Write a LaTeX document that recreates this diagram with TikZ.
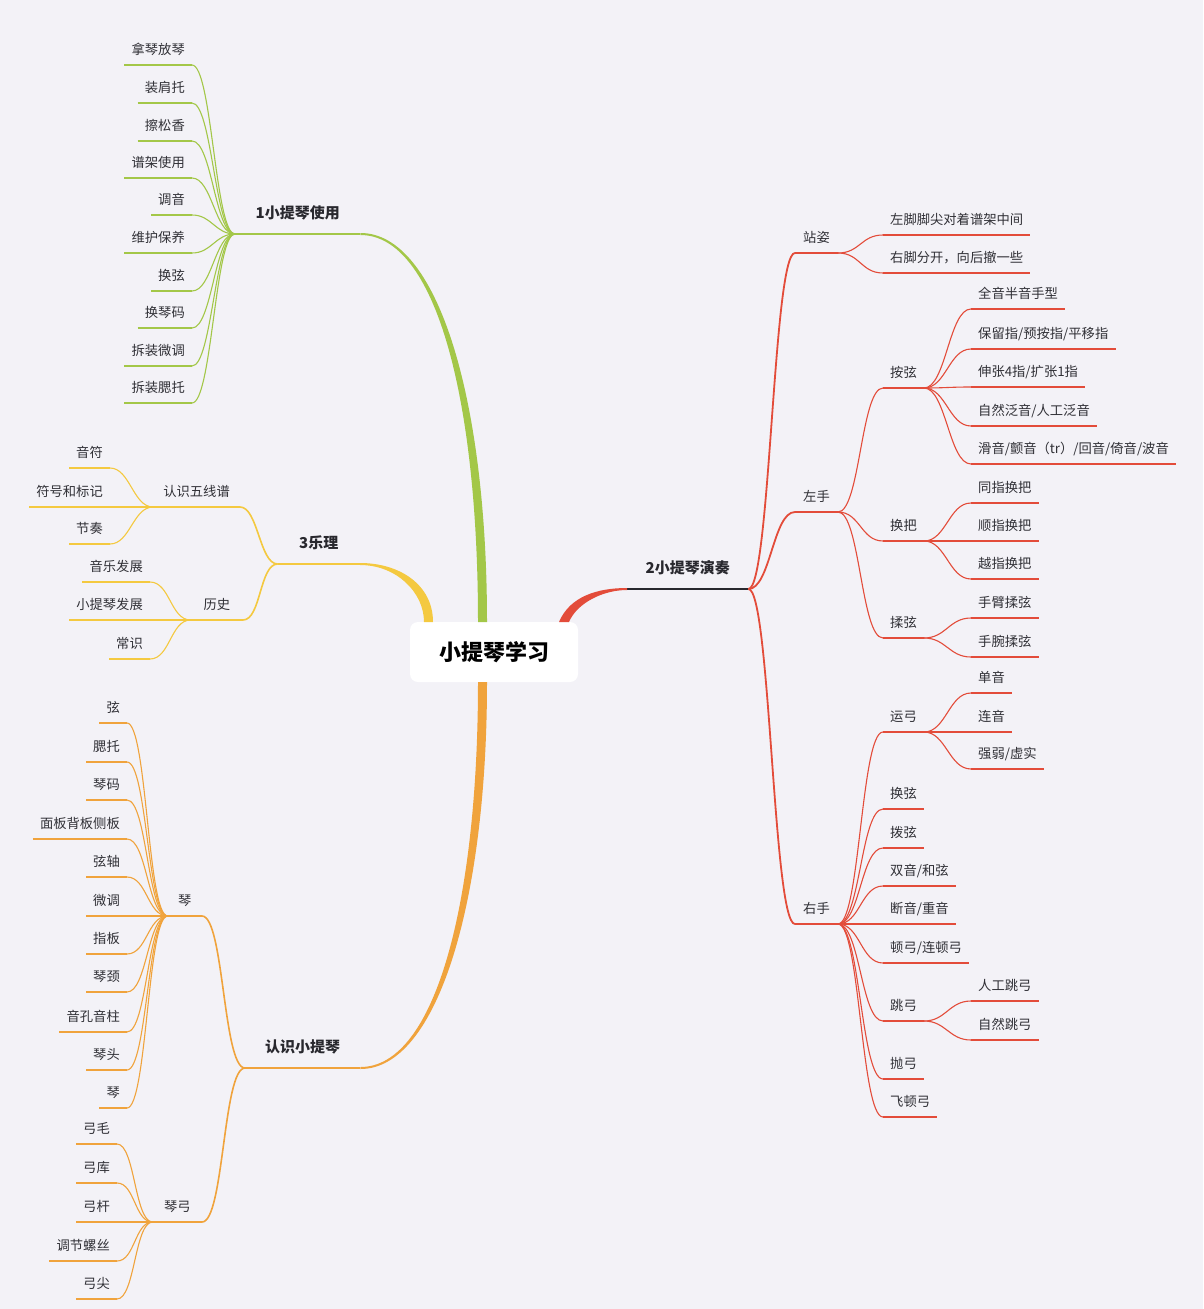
\documentclass[tikz,border=0pt]{standalone}
\usepackage{fontspec}
\usetikzlibrary{calc}
\newfontfamily\cjk{Noto Sans CJK SC}
\definecolor{bg}{RGB}{243,242,247}
\definecolor{mgreen}{RGB}{163,199,72}
\definecolor{myellow}{RGB}{244,201,64}
\definecolor{morange}{RGB}{240,163,60}
\definecolor{mred}{RGB}{227,76,58}
\definecolor{mtext}{RGB}{48,48,54}
\definecolor{mdark}{RGB}{40,40,46}
\tikzset{
  ul/.style 2 args={append after command={(\tikzlastnode.south west) edge[draw=#1, line width=#2] (\tikzlastnode.south east)}},
  txt/.style={font=\cjk\fontsize{13.3}{16}\selectfont, text=mtext, inner xsep=7pt, inner ysep=0pt, text height=11pt, text depth=10.5pt},
  leaf/.style={txt, ul={#1}{1.1pt}},
  sub/.style={txt, inner xsep=10pt, ul={#1}{1.6pt}},
  main/.style 2 args={txt, font=\cjk\bfseries\fontsize{15}{18}\selectfont, text=mdark, text height=13pt, text depth=15pt, ul={#1}{#2}},
  root/.style={fill=white, rounded corners=8pt, minimum width=168pt, minimum height=60pt, font=\cjk\bfseries\fontsize{22}{26}\selectfont, text=black},
  link/.style={draw=#1, line width=1.1pt},
  lt/.style={to path={.. controls +(-#1,0) and +(#1,0) .. (\tikztotarget)}},
  rt/.style={to path={.. controls +(#1,0) and +(-#1,0) .. (\tikztotarget)}}
}
\begin{document}
\begin{tikzpicture}[x=1pt, y=-1pt]
\fill[bg] (0,0) rectangle (1203,1309);
\useasboundingbox (0,0) rectangle (1203,1309);

\node[root] (root) at (494,652) {小提琴学习};

% 1 小提琴使用
\node[main={mgreen}{2pt}, anchor=south west, minimum width=125pt] (b1) at (235,234) {1小提琴使用};
\node[leaf=mgreen, anchor=south east] (g1) at (192,65) {拿琴放琴};
\node[leaf=mgreen, anchor=south east] (g2) at (192,103) {装肩托};
\node[leaf=mgreen, anchor=south east] (g3) at (192,141) {擦松香};
\node[leaf=mgreen, anchor=south east] (g4) at (192,178) {谱架使用};
\node[leaf=mgreen, anchor=south east] (g5) at (192,215) {调音};
\node[leaf=mgreen, anchor=south east] (g6) at (192,253) {维护保养};
\node[leaf=mgreen, anchor=south east] (g7) at (192,291) {换弦};
\node[leaf=mgreen, anchor=south east] (g8) at (192,328) {换琴码};
\node[leaf=mgreen, anchor=south east] (g9) at (192,366) {拆装微调};
\node[leaf=mgreen, anchor=south east] (g10) at (192,403) {拆装腮托};
\path[link=mgreen] (b1.south west) edge[lt=20] (g1.south east) edge[lt=20] (g2.south east)
  edge[lt=20] (g3.south east) edge[lt=20] (g4.south east) edge[lt=20] (g5.south east)
  edge[lt=20] (g6.south east) edge[lt=20] (g7.south east) edge[lt=20] (g8.south east)
  edge[lt=20] (g9.south east) edge[lt=20] (g10.south east);

% 3 乐理
\node[main={myellow}{2pt}, anchor=south east, minimum width=82pt] (b3) at (360,564) {3乐理};
\node[sub=myellow, anchor=south east] (y1) at (240,507) {认识五线谱};
\node[sub=myellow, anchor=south east, minimum width=52pt] (y2) at (243,620) {历史};
\node[leaf=myellow, anchor=south east] (y11) at (110,468) {音符};
\node[leaf=myellow, anchor=south east] (y12) at (110,507) {符号和标记};
\node[leaf=myellow, anchor=south east] (y13) at (110,544) {节奏};
\node[leaf=myellow, anchor=south east] (y21) at (150,582) {音乐发展};
\node[leaf=myellow, anchor=south east] (y22) at (150,620) {小提琴发展};
\node[leaf=myellow, anchor=south east] (y23) at (150,659) {常识};
\path[link=myellow, line width=1.6pt] (b3.south west) edge[lt=18] (y1.south east) edge[lt=18] (y2.south east);
\path[link=myellow] (y1.south west) edge[lt=20] (y11.south east) edge[lt=20] (y12.south east) edge[lt=20] (y13.south east);
\path[link=myellow] (y2.south west) edge[lt=20] (y21.south east) edge[lt=20] (y22.south east) edge[lt=20] (y23.south east);

% 认识小提琴
\node[main={morange}{2pt}, anchor=south west, minimum width=115pt] (b4) at (245,1068) {认识小提琴};
\node[sub=morange, anchor=south east, minimum width=34pt] (o1) at (202,916) {琴};
\node[sub=morange, anchor=south east, minimum width=49pt] (o2) at (202,1222) {琴弓};
\node[leaf=morange, anchor=south east] (o11) at (127,723) {弦};
\node[leaf=morange, anchor=south east] (o12) at (127,762) {腮托};
\node[leaf=morange, anchor=south east] (o13) at (127,800) {琴码};
\node[leaf=morange, anchor=south east] (o14) at (127,839) {面板背板侧板};
\node[leaf=morange, anchor=south east] (o15) at (127,877) {弦轴};
\node[leaf=morange, anchor=south east] (o16) at (127,916) {微调};
\node[leaf=morange, anchor=south east] (o17) at (127,954) {指板};
\node[leaf=morange, anchor=south east] (o18) at (127,992) {琴颈};
\node[leaf=morange, anchor=south east] (o19) at (127,1032) {音孔音柱};
\node[leaf=morange, anchor=south east] (o110) at (127,1070) {琴头};
\node[leaf=morange, anchor=south east] (o111) at (127,1108) {琴};
\node[leaf=morange, anchor=south east] (o21) at (117,1144) {弓毛};
\node[leaf=morange, anchor=south east] (o22) at (117,1183) {弓库};
\node[leaf=morange, anchor=south east] (o23) at (117,1222) {弓杆};
\node[leaf=morange, anchor=south east] (o24) at (117,1261) {调节螺丝};
\node[leaf=morange, anchor=south east] (o25) at (117,1299) {弓尖};
\path[link=morange, line width=1.6pt] (b4.south west) edge[lt=22] (o1.south east) edge[lt=22] (o2.south east);
\path[link=morange] (o1.south west) edge[lt=20] (o11.south east) edge[lt=20] (o12.south east)
  edge[lt=20] (o13.south east) edge[lt=20] (o14.south east) edge[lt=20] (o15.south east)
  edge[lt=20] (o16.south east) edge[lt=20] (o17.south east) edge[lt=20] (o18.south east)
  edge[lt=20] (o19.south east) edge[lt=20] (o110.south east) edge[lt=20] (o111.south east);
\path[link=morange] (o2.south west) edge[lt=18] (o21.south east) edge[lt=18] (o22.south east)
  edge[lt=18] (o23.south east) edge[lt=18] (o24.south east) edge[lt=18] (o25.south east);

% 2 小提琴演奏
\node[main={mdark}{2pt}, anchor=south west, minimum width=121pt] (b2) at (627,589) {2小提琴演奏};
\node[sub=mred, inner xsep=8pt, anchor=south west] (r1) at (795,253) {站姿};
\node[sub=mred, inner xsep=8pt, anchor=south west] (r2) at (795,512) {左手};
\node[sub=mred, inner xsep=8pt, anchor=south west] (r3) at (795,924) {右手};
\node[leaf=mred, anchor=south west] (r11) at (883,235) {左脚脚尖对着谱架中间};
\node[leaf=mred, anchor=south west] (r12) at (883,273) {右脚分开，向后撤一些};
\node[leaf=mred, anchor=south west] (r21) at (883,388) {按弦};
\node[leaf=mred, anchor=south west] (r22) at (883,541) {换把};
\node[leaf=mred, anchor=south west] (r23) at (883,638) {揉弦};
\node[leaf=mred, anchor=south west] (r211) at (971,309) {全音半音手型};
\node[leaf=mred, anchor=south west] (r212) at (971,349) {保留指/预按指/平移指};
\node[leaf=mred, anchor=south west] (r213) at (971,387) {伸张4指/扩张1指};
\node[leaf=mred, anchor=south west] (r214) at (971,426) {自然泛音/人工泛音};
\node[leaf=mred, anchor=south west] (r215) at (971,464) {滑音/颤音（tr）/回音/倚音/波音};
\node[leaf=mred, anchor=south west] (r221) at (971,503) {同指换把};
\node[leaf=mred, anchor=south west] (r222) at (971,541) {顺指换把};
\node[leaf=mred, anchor=south west] (r223) at (971,579) {越指换把};
\node[leaf=mred, anchor=south west] (r231) at (971,618) {手臂揉弦};
\node[leaf=mred, anchor=south west] (r232) at (971,657) {手腕揉弦};
\node[leaf=mred, anchor=south west] (r31) at (883,732) {运弓};
\node[leaf=mred, anchor=south west] (r32) at (883,809) {换弦};
\node[leaf=mred, anchor=south west] (r33) at (883,848) {拨弦};
\node[leaf=mred, anchor=south west] (r34) at (883,886) {双音/和弦};
\node[leaf=mred, anchor=south west] (r35) at (883,924) {断音/重音};
\node[leaf=mred, anchor=south west] (r36) at (883,963) {顿弓/连顿弓};
\node[leaf=mred, anchor=south west] (r37) at (883,1021) {跳弓};
\node[leaf=mred, anchor=south west] (r38) at (883,1079) {抛弓};
\node[leaf=mred, anchor=south west] (r39) at (883,1117) {飞顿弓};
\node[leaf=mred, anchor=south west] (r311) at (971,693) {单音};
\node[leaf=mred, anchor=south west] (r312) at (971,732) {连音};
\node[leaf=mred, anchor=south west] (r313) at (971,769) {强弱/虚实};
\node[leaf=mred, anchor=south west] (r371) at (971,1001) {人工跳弓};
\node[leaf=mred, anchor=south west] (r372) at (971,1040) {自然跳弓};
\path[link=mred, line width=1.8pt] (b2.south east) edge[rt=22] (r1.south west) edge[rt=22] (r2.south west) edge[rt=22] (r3.south west);
\path[link=mred] (r1.south east) edge[rt=22] (r11.south west) edge[rt=22] (r12.south west);
\path[link=mred] (r2.south east) edge[rt=22] (r21.south west) edge[rt=22] (r22.south west) edge[rt=22] (r23.south west);
\path[link=mred] (r21.south east) edge[rt=22] (r211.south west) edge[rt=22] (r212.south west)
  edge[rt=22] (r213.south west) edge[rt=22] (r214.south west) edge[rt=22] (r215.south west);
\path[link=mred] (r22.south east) edge[rt=22] (r221.south west) edge[rt=22] (r222.south west) edge[rt=22] (r223.south west);
\path[link=mred] (r23.south east) edge[rt=22] (r231.south west) edge[rt=22] (r232.south west);
\path[link=mred] (r3.south east) edge[rt=22] (r31.south west) edge[rt=22] (r32.south west)
  edge[rt=22] (r33.south west) edge[rt=22] (r34.south west) edge[rt=22] (r35.south west)
  edge[rt=22] (r36.south west) edge[rt=22] (r37.south west) edge[rt=22] (r38.south west)
  edge[rt=22] (r39.south west);
\path[link=mred] (r31.south east) edge[rt=22] (r311.south west) edge[rt=22] (r312.south west) edge[rt=22] (r313.south west);
\path[link=mred] (r37.south east) edge[rt=22] (r371.south west) edge[rt=22] (r372.south west);

% trunks
\fill[mgreen] ($(b1.south east)+(0,-1)$) .. controls (438,233) and (487,400) .. (487,622) -- (478,622) .. controls (478,400) and (436,235) .. ($(b1.south east)+(0,1)$) -- cycle;
\fill[myellow] ($(b3.south east)+(0,-1)$) .. controls (400,563) and (433,585) .. (433,622) -- (424,622) .. controls (424,592) and (396,565) .. ($(b3.south east)+(0,1)$) -- cycle;
\fill[morange] ($(b4.south east)+(0,1)$) .. controls (438,1069) and (487,900) .. (487,682) -- (478,682) .. controls (478,900) and (436,1067) .. ($(b4.south east)+(0,-1)$) -- cycle;
\fill[mred] ($(b2.south west)+(0,-1)$) .. controls (598,588) and (570,596) .. (559,622) -- (569,622) .. controls (577,603) and (603,590) .. ($(b2.south west)+(0,1)$) -- cycle;
\end{tikzpicture}
\end{document}
